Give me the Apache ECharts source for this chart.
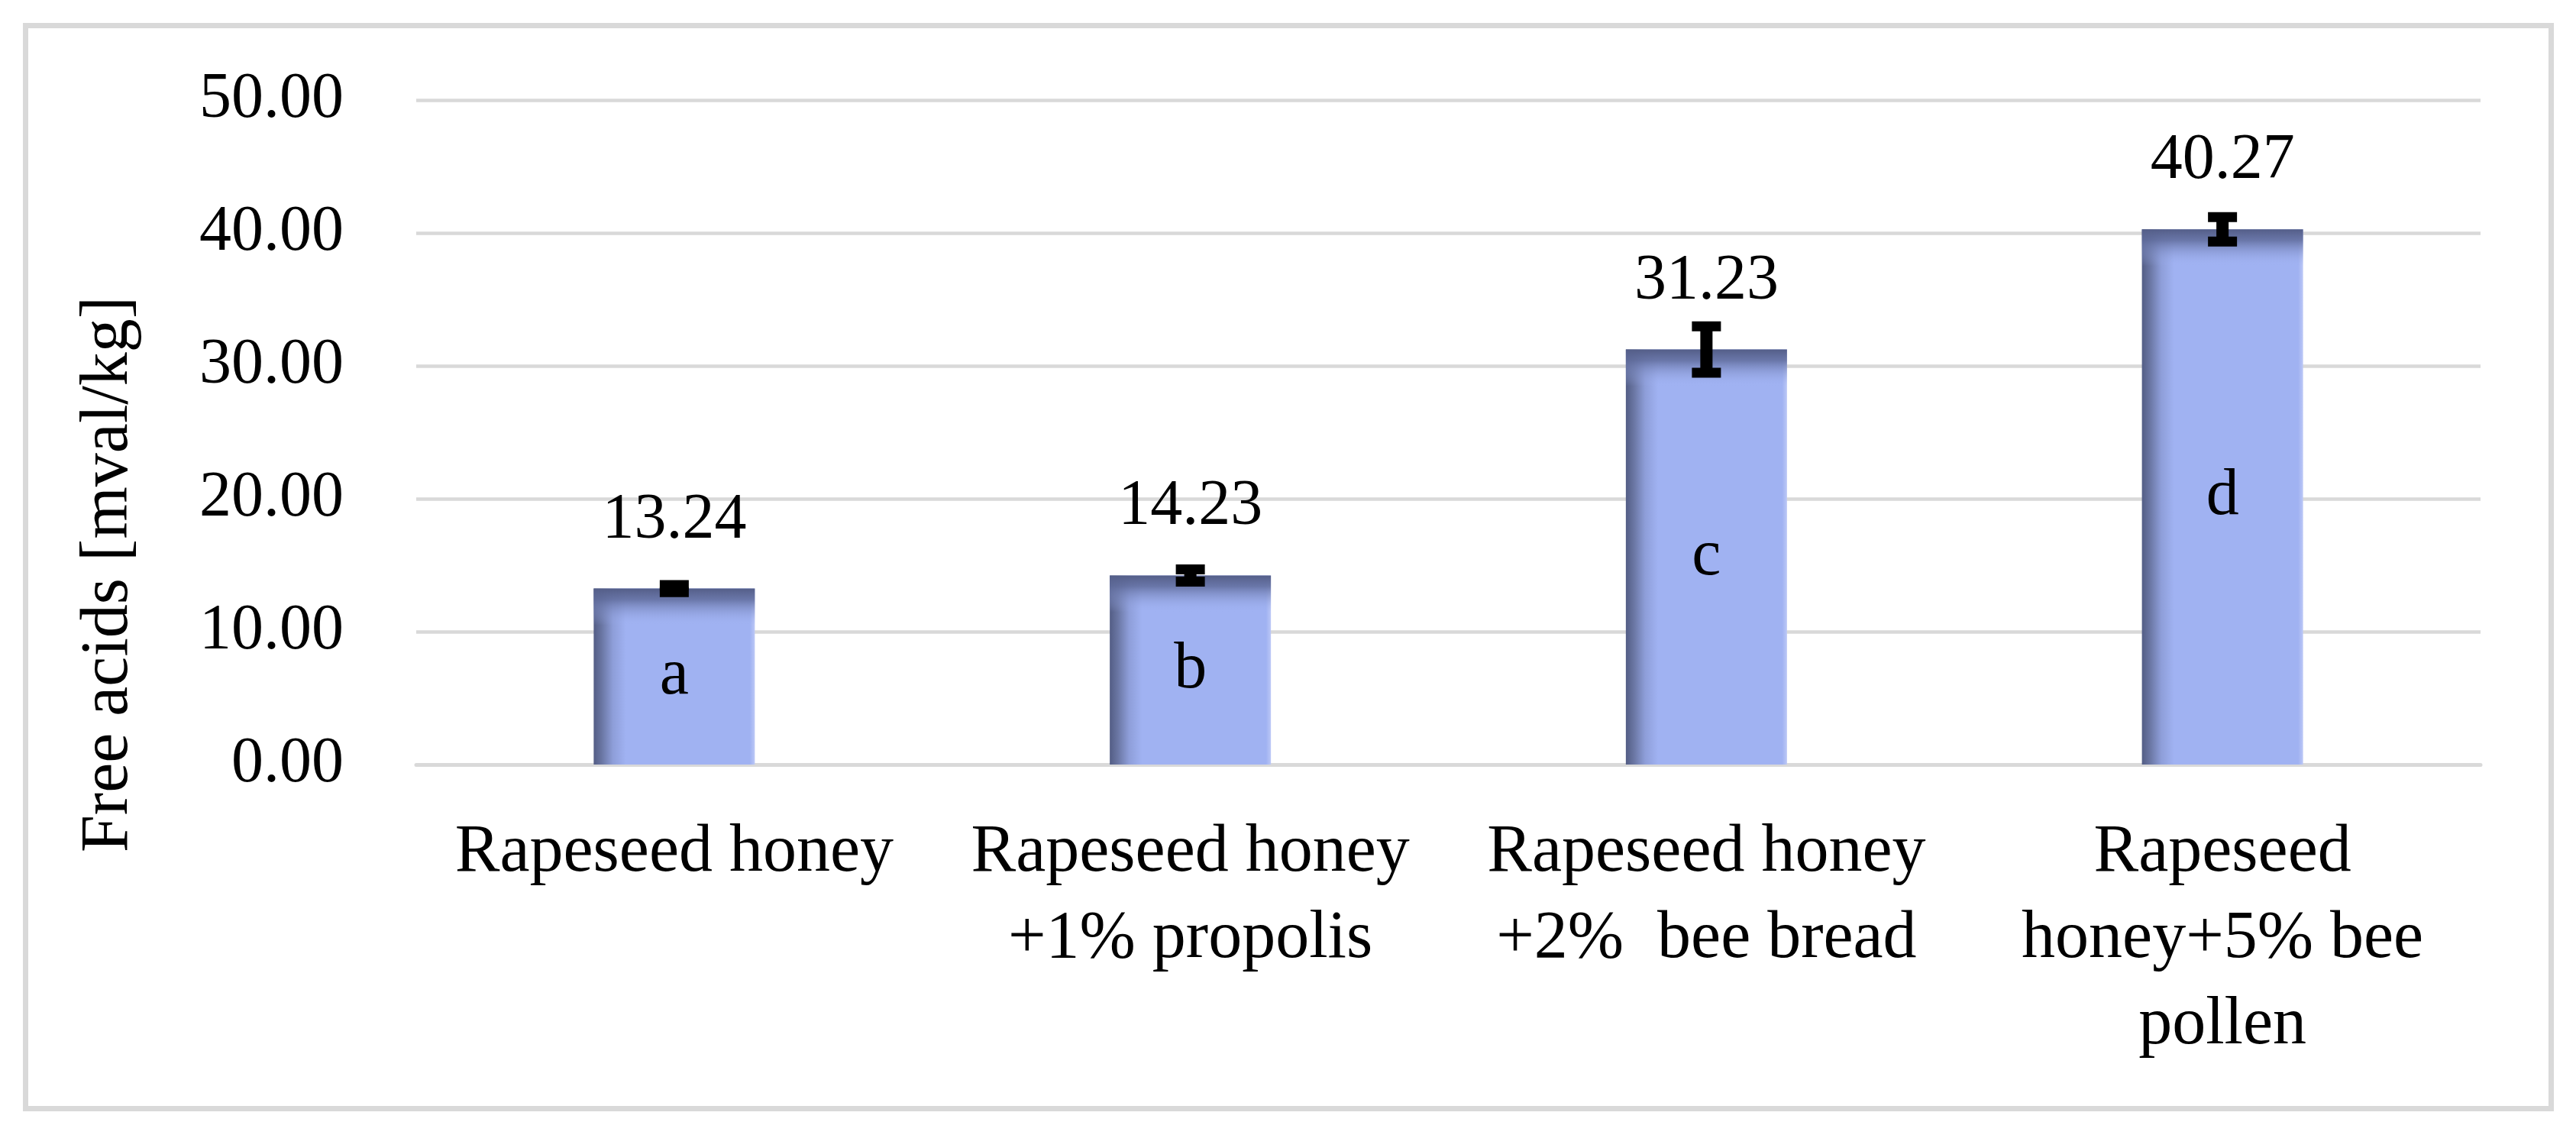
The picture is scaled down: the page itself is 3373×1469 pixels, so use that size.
<!DOCTYPE html>
<html>
<head>
<meta charset="utf-8">
<script src="https://cdn.jsdelivr.net/npm/echarts@6/dist/echarts.min.js"></script>
<style>
html,body{margin:0;padding:0;background:#fff;}
#chart{width:3373px;height:1469px;}
</style>
</head>
<body>
<div id="chart"></div>
<script>
const categories = ['Rapeseed honey', 'Rapeseed honey\n+1% propolis', 'Rapeseed honey\n+2%  bee bread', 'Rapeseed\nhoney+5% bee\npollen'];
const values = [13.24, 14.23, 31.23, 40.27];
const errors = [0.26, 0.46, 1.75, 0.92];
const letters = ['a', 'b', 'c', 'd'];
const yTicks = {min: 0, max: 50, interval: 10};
const yTitle = 'Free acids [mval/kg]';

const FONT = 'Liberation Serif';
const chart = echarts.init(document.getElementById('chart'), null, {renderer: 'canvas'});

const barGradient = new echarts.graphic.LinearGradient(0, 0, 1, 0, [
  {offset: 0, color: '#535d85'},
  {offset: 0.05, color: '#6a76a3'},
  {offset: 0.12, color: '#8e9ed9'},
  {offset: 0.2, color: '#a0b2f2'},
  {offset: 0.97, color: '#a0b2f2'},
  {offset: 1, color: '#bcc8f6'}
]);

const customData = values.map((v, i) => [i, v, errors[i], letters[i]]);

const option = {
  animation: false,
  backgroundColor: '#ffffff',
  grid: {left: 545, right: 125, top: 131, bottom: 468, containLabel: false},
  xAxis: {
    type: 'category',
    data: categories,
    axisTick: {show: false},
    axisLine: {show: true, lineStyle: {color: '#d9d9d9', width: 5}},
    axisLabel: {
      interval: 0,
      margin: 59,
      color: '#000',
      fontFamily: FONT,
      fontSize: 88,
      lineHeight: 113,
      align: 'center'
    }
  },
  yAxis: {
    type: 'value',
    min: yTicks.min,
    max: yTicks.max,
    interval: yTicks.interval,
    axisLine: {show: false},
    axisTick: {show: false},
    splitLine: {lineStyle: {color: '#d9d9d9', width: 4.5}},
    axisLabel: {
      margin: 95,
      color: '#000',
      fontFamily: FONT,
      fontSize: 84,
      formatter: v => v.toFixed(2)
    }
  },
  graphic: [
    {
      type: 'rect',
      shape: {x: 33.5, y: 33.5, width: 3307, height: 1418},
      style: {fill: 'none', stroke: '#d9d9d9', lineWidth: 7},
      z: -1
    },
    {
      type: 'text',
      x: 143,
      y: 752,
      rotation: Math.PI / 2,
      style: {
        text: yTitle,
        fontFamily: FONT,
        fontSize: 88,
        fill: '#000',
        align: 'center',
        verticalAlign: 'middle'
      }
    }
  ],
  series: [
    {
      type: 'bar',
      data: values,
      barWidth: 211,
      itemStyle: {color: barGradient},
      label: {
        show: true,
        position: 'top',
        distance: 47,
        color: '#000',
        fontFamily: FONT,
        fontSize: 84,
        formatter: p => p.value.toFixed(2)
      }
    },
    {
      type: 'custom',
      data: customData,
      z: 3,
      renderItem: function (params, api) {
        const i = api.value(0);
        const v = api.value(1);
        const e = api.value(2);
        const letter = letters[params.dataIndex];
        const top = api.coord([i, v]);
        const mid = api.coord([i, v / 2]);
        const hi = api.coord([i, v + e]);
        const lo = api.coord([i, v - e]);
        const size = api.size([1, 0]);
        const bw = 211;
        const x0 = top[0] - bw / 2;
        const shade = new echarts.graphic.LinearGradient(0, 0, 0, 1, [
          {offset: 0, color: 'rgba(84,94,136,1)'},
          {offset: 0.3, color: 'rgba(96,108,156,0.85)'},
          {offset: 1, color: 'rgba(160,178,242,0)'}
        ]);
        const capW = 38, capH = 13, stemW = 16;
        return {
          type: 'group',
          children: [
            {
              type: 'rect',
              shape: {x: x0, y: top[1], width: bw, height: 48},
              style: {fill: shade}
            },
            {
              type: 'rect',
              shape: {x: top[0] - stemW / 2, y: hi[1], width: stemW, height: lo[1] - hi[1]},
              style: {fill: '#000'}
            },
            {
              type: 'rect',
              shape: {x: top[0] - capW / 2, y: hi[1] - capH / 2, width: capW, height: capH},
              style: {fill: '#000'}
            },
            {
              type: 'rect',
              shape: {x: top[0] - capW / 2, y: lo[1] - capH / 2, width: capW, height: capH},
              style: {fill: '#000'}
            },
            {
              type: 'text',
              x: mid[0],
              y: mid[1],
              style: {
                text: letter,
                fontFamily: FONT,
                fontSize: 86,
                fill: '#000',
                align: 'center',
                verticalAlign: 'middle'
              }
            }
          ]
        };
      }
    }
  ]
};
chart.setOption(option);
</script>
</body>
</html>
